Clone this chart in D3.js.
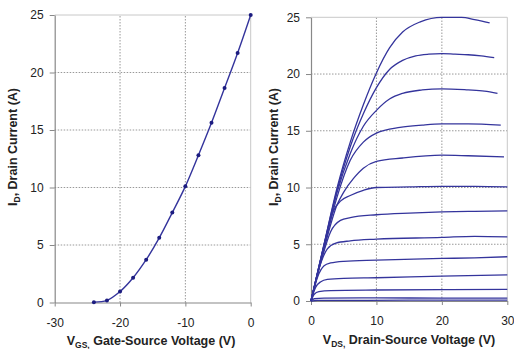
<!DOCTYPE html>
<html>
<head>
<meta charset="utf-8">
<script src="https://cdn.jsdelivr.net/npm/d3@7"></script>
<style>
  body { margin: 0; background: #fff; }
  svg text { font-family: "Liberation Sans", Arial, sans-serif; }
  .tick text { font-size: 12px; fill: #222; }
  .axis-title { font-size: 12.5px; font-weight: bold; fill: #222; }
</style>
</head>
<body>
<div id="graphicContainer"></div>
<script>

// transfer curve: Vgs vs Id
var vgs = [-24, -22, -20, -18, -16, -14, -12, -10, -8, -6, -4, -2, 0];
var idTransfer = [0.03, 0.18, 0.95, 2.15, 3.72, 5.62, 7.82, 10.1, 12.8, 15.62, 18.65, 21.7, 25];

var yTicks = [0, 5, 10, 15, 20, 25];
var vgsTicks = [-30, -20, -10, 0];
var vdsTicks = [0, 10, 20, 30];

// output curves: [Vds, Id], one array per gate step
var curve1 = [[0,0],[2,5],[4,10],[6,14],[8,17.3],[10,20.1],[12,22.3],[14,23.7],[16.7,24.6],[20,25],[23,25],[25,24.8],[27.3,24.5]];
var curve2 = [[0,0],[2,5],[4,9.8],[6,13.6],[8,16.5],[10,18.8],[12,20.4],[14,21.2],[16,21.6],[18,21.75],[20,21.8],[22,21.75],[24,21.7],[26,21.6],[28,21.45]];
var curve3 = [[0,0],[2,4.9],[4,9.6],[6,13],[8,15.4],[10,16.8],[12,17.8],[14,18.3],[17,18.6],[20,18.7],[24,18.6],[26.5,18.5],[28.5,18.3]];
var curve4 = [[0,0],[2,4.8],[4,9.2],[6,12.4],[8,14],[10,14.8],[13.6,15.3],[17,15.5],[20,15.6],[24,15.6],[29,15.5]];
var curve5 = [[0,0],[2,4.6],[4,8.5],[5,9.6],[6.5,10.8],[8,11.7],[10,12.3],[14,12.6],[20,12.85],[24,12.8],[29.5,12.7]];
var curve6 = [[0,0],[2,4.9],[3.4,7.9],[4.5,8.8],[6,9.3],[8,9.75],[10,10],[15,10.05],[20,10.1],[25,10.1],[30,10.05]];
var curve7 = [[0,0],[1.5,3.4],[3,6.1],[4.5,7.1],[6,7.35],[10,7.6],[15,7.75],[20,7.85],[25,7.9],[30,7.95]];
var curve8 = [[0,0],[1.2,2.8],[2.5,4.6],[3.8,5.1],[6,5.3],[10,5.45],[20,5.6],[25,5.7],[30,5.65]];
var curve9 = [[0,0],[1,2.1],[2,3.1],[3,3.35],[5,3.5],[10,3.6],[20,3.75],[25,3.8],[30,3.9]];
var curve10 = [[0,0],[0.7,1.2],[1.5,1.7],[2.5,1.9],[5,2],[10,2.05],[20,2.2],[30,2.3]];
var curve11 = [[0,0],[0.5,0.6],[1.2,0.82],[3,0.92],[10,0.97],[20,1],[30,1.03]];
var curve12 = [[0,0],[0.5,0.2],[2,0.25],[10,0.28],[20,0.25],[30,0.25]];
var curve13 = [[0,0],[1,0.05],[15,0.07],[30,0.08]];

var outputCurves = [curve1, curve2, curve3, curve4, curve5, curve6, curve7, curve8, curve9, curve10, curve11, curve12, curve13];

var lineColor = "#34349c";

var svg = d3.select("#graphicContainer").append("svg")
    .attr("width", 514)
    .attr("height", 349);

function drawFrame(x, y, xTicks) {

    var g = svg.append("g");
    var x0 = x.range()[0], x1 = x.range()[1];
    var y0 = y.range()[0], y1 = y.range()[1];

    // grid
    g.selectAll(".hgrid")
        .data(yTicks.slice(1, -1))
      .enter().append("line")
        .attr("x1", x0).attr("x2", x1)
        .attr("y1", function(d) { return y(d); })
        .attr("y2", function(d) { return y(d); })
        .attr("stroke", "#999")
        .attr("stroke-width", 1)
        .attr("stroke-dasharray", "1.5,1.5");

    g.selectAll(".vgrid")
        .data(xTicks.slice(1, -1))
      .enter().append("line")
        .attr("y1", y0).attr("y2", y1)
        .attr("x1", function(d) { return x(d); })
        .attr("x2", function(d) { return x(d); })
        .attr("stroke", "#999")
        .attr("stroke-width", 1)
        .attr("stroke-dasharray", "1.5,1.5");

    // light border top + right
    g.append("path")
        .attr("d", "M" + x0 + "," + y1 + "H" + x1 + "V" + y0)
        .attr("fill", "none")
        .attr("stroke", "#c8c8c8")
        .attr("stroke-width", 1);

    var fmt = function(d) { return String(d); };
    var xAxis = d3.axisBottom(x).tickValues(xTicks).tickFormat(fmt).tickSize(4).tickPadding(6).tickSizeOuter(0);
    var yAxis = d3.axisLeft(y).tickValues(yTicks).tickFormat(fmt).tickSize(5).tickPadding(6).tickSizeOuter(0);

    var gx = g.append("g")
        .attr("transform", "translate(0," + y0 + ")")
        .call(xAxis);
    var gy = g.append("g")
        .attr("transform", "translate(" + x0 + ",0)")
        .call(yAxis);

    [gx, gy].forEach(function(a) {
        a.select(".domain").attr("stroke", "#888").attr("stroke-width", 1.2);
        a.selectAll(".tick line").attr("stroke", "#888");
        a.selectAll(".tick text").attr("font-size", 12).attr("fill", "#222");
    });
    gx.selectAll(".tick text").attr("dy", "1.2em");

    return g;
}

function axisTitle(x, y, rotate, main, sub, rest) {
    var t = svg.append("text")
        .attr("class", "axis-title")
        .attr("text-anchor", "middle")
        .attr("transform", "translate(" + x + "," + y + ")" + (rotate ? " rotate(-90)" : ""));
    t.append("tspan").text(main);
    t.append("tspan").attr("font-size", 8.5).attr("dy", 3).text(sub);
    t.append("tspan").attr("dy", -3).text(rest);
}

// ---- left panel
var xL = d3.scaleLinear().domain([-30, 0]).range([54.7, 250.7]);
var yL = d3.scaleLinear().domain([0, 25]).range([302.5, 15]);

drawFrame(xL, yL, vgsTicks);

var transfer = vgs.map(function(v, i) { return [v, idTransfer[i]]; });

var lineL = d3.line()
    .x(function(d) { return xL(d[0]); })
    .y(function(d) { return yL(d[1]); })
    .curve(d3.curveCatmullRom);

svg.append("path")
    .datum(transfer)
    .attr("d", lineL)
    .attr("fill", "none")
    .attr("stroke", lineColor)
    .attr("stroke-width", 1.4);

svg.selectAll(".pt")
    .data(transfer)
  .enter().append("circle")
    .attr("cx", function(d) { return xL(d[0]); })
    .attr("cy", function(d) { return yL(d[1]); })
    .attr("r", 2)
    .attr("fill", "#1c1c80");

axisTitle(151, 345, false, "V", "GS,", " Gate-Source Voltage (V)");
axisTitle(17, 147, true, "I", "D", ", Drain Current (A)");

// ---- right panel
var xR = d3.scaleLinear().domain([0, 30]).range([311, 507.3]);
var yR = d3.scaleLinear().domain([0, 25]).range([301, 17.3]);

drawFrame(xR, yR, vdsTicks);

var lineR = d3.line()
    .x(function(d) { return xR(d[0]); })
    .y(function(d) { return yR(d[1]); })
    .curve(d3.curveMonotoneX);

svg.selectAll(".curve")
    .data(outputCurves)
  .enter().append("path")
    .attr("d", lineR)
    .attr("fill", "none")
    .attr("stroke", lineColor)
    .attr("stroke-width", 1.3);

axisTitle(409, 344, false, "V", "DS,", " Drain-Source Voltage (V)");
axisTitle(278, 147, true, "I", "D", ", Drain Current (A)");

</script>
</body>
</html>
